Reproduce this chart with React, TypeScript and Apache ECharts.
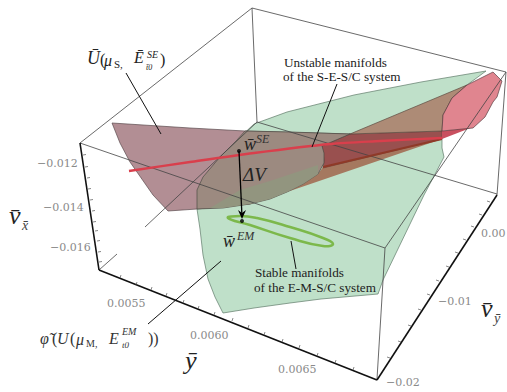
import React, { useEffect, useRef } from "react";
import * as echarts from "echarts";

type P = number[];
const greenSheet: P[] = [[486,71],[421,82],[354,95],[287,112],[254,124],[237,140],[220,157],[203,177],[198,190],[197,209],[200,229],[203,255],[208,279],[215,297],[223,313],[254,308],[290,303],[321,299],[378,294],[383,280],[424,195],[433,178],[444,157],[442,148],[442,127],[443,115],[452,98],[467,85]];
const mauveSheet: P[] = [[112,123],[190,128],[245,131],[350,134],[322,146],[323,165],[303,184],[250,204],[197,209],[168,211],[153,195],[130,162],[120,143]];
const overlapLobe: P[] = [[245,131],[290,132],[350,134],[322,146],[324,153],[324,163],[318,174],[303,184],[287,192],[270,199],[250,204],[223,208],[197,209],[197,190],[203,177],[220,157],[237,140]];
const overlapLower: P[] = [[210,208],[240,190],[273,180],[318,165],[318,174],[303,184],[287,192],[270,199],[250,204],[223,208]];
const upperWedge: P[] = [[350,134],[467,85],[452,98],[443,115],[442,131]];
const darkWedge: P[] = [[322,146],[350,134],[442,131],[442,139],[323,168],[324,160]];
const lowerWedge: P[] = [[442,139],[287,192],[303,184],[318,174],[323,167]];
const wedgeTip: P[] = [[442,131],[473,127],[442,139]];
const pinkLens: P[] = [[467,85],[493,72],[502,81],[497,97],[493,102],[485,117],[473,128],[442,131],[443,115],[452,98]];

const redLine: P[] = [[129,171],[190,162],[254,153],[330,144],[380,141],[442,138]];
const brownLine: P[] = [[323,167],[442,139]];
const stableOrbit: P[] = [[228,218],[240,216],[257,218],[290,227],[323,238],[333,244],[323,246],[290,238],[250,225]];

const boxThin: P[][] = [
  [[80,143],[252,8]], [[252,8],[506,72]], [[252,8],[257,122]], [[257,122],[497,194]],
  [[257,122],[145,227]], [[117,254],[99,270]], [[80,143],[385,248]], [[385,248],[506,72]],
  [[385,248],[377,379]], [[506,72],[497,195]],
];
const boxThick: P[][] = [ [[80,143],[99,270]], [[99,270],[377,380]], [[377,380],[497,195]] ];
const leaders: P[][] = [ [[126,73],[161,134]], [[337,84],[312,147]], [[148,324],[221,261]], [[291,241],[296,269]] ];
const deltaV: P[] = [[239,151],[242,217]];
const endDots: P[] = [[239,151],[242,221]];

const ticksY: P[] = [[120,278],[136,285],[151,290],[166,296],[183,303],[198,309],[214,315],[232,321],[248,328],[264,335],[282,342],[299,348],[317,356],[335,363],[353,370]];
const ticksVy: P[] = [[390,358],[401,342],[411,326],[421,310],[430,295],[439,281],[449,267],[458,253],[466,240],[474,227],[482,215],[490,202]];
const ticksVx: P[] = [[83,155],[85,167],[87,178],[88,189],[90,200],[92,211],[93,222],[95,231],[97,241],[98,252],[99,262]];

const vxLabels = ["\u22120.012", "\u22120.014", "\u22120.016"];
const yLabels = ["0.0055", "0.0060", "0.0065"];
const vyLabels = ["0.00", "\u22120.01", "\u22120.02"];
const unstableNote = ["Unstable manifolds", "of the S-E-S/C system"];
const stableNote = ["Stable manifolds", "of the E-M-S/C system"];

const M = "Liberation Serif";
function tx(text: string, x: number, y: number, size: number, o: any = {}) {
  return {
    type: "text", x, y, silent: true, z: 100,
    style: {
      text, fontFamily: o.family || M, fontSize: size, fontStyle: o.italic ? "italic" : "normal",
      fill: o.fill || "#222", textAlign: o.align || "left", textVerticalAlign: "middle",
    },
  };
}

function area(points: P[], fill: string, stroke?: string, lw = 0.7, smooth = 0) {
  return {
    type: "custom", coordinateSystem: "cartesian2d", silent: true, clip: false, data: [[0, 0]],
    renderItem: (_: any, api: any) => ({
      type: "polygon",
      shape: { points: points.map((p) => api.coord(p)), smooth },
      style: { fill, stroke: stroke || "none", lineWidth: lw, lineJoin: "round" },
    }),
  };
}
function line(points: P[], stroke: string, lw: number, smooth = 0) {
  return {
    type: "custom", coordinateSystem: "cartesian2d", silent: true, clip: false, data: [[0, 0]],
    renderItem: (_: any, api: any) => ({
      type: "polyline",
      shape: { points: points.map((p) => api.coord(p)), smooth },
      style: { fill: "none", stroke, lineWidth: lw, lineJoin: "round" },
    }),
  };
}
function ticks(points: P[], dx: number, dy: number) {
  return {
    type: "custom", coordinateSystem: "cartesian2d", silent: true, clip: false,
    data: points,
    encode: { x: 0, y: 1 },
    renderItem: (_: any, api: any) => {
      const c = api.coord([api.value(0), api.value(1)]);
      return {
        type: "line",
        shape: { x1: c[0], y1: c[1], x2: c[0] + dx, y2: c[1] + dy },
        style: { stroke: "#555", lineWidth: 0.7 },
      };
    },
  };
}

export default function App() {
  const ref = useRef<HTMLDivElement>(null);
  useEffect(() => {
    document.body.style.margin = "0";
    const chart = echarts.init(ref.current!, null, { renderer: "svg" });
    const F = "DejaVu Serif";
    const G = "#8a8a8a";
    const option: any = {
      animation: false,
      backgroundColor: "#fff",
      grid: { left: 0, right: 0, top: 0, bottom: 0 },
      xAxis: { type: "value", min: 0, max: 507, show: false },
      yAxis: { type: "value", min: 0, max: 392, inverse: true, show: false },
      series: [
        area(greenSheet, "#bfe0c9", "#5f7a68"),
        area(mauveSheet, "#b28e94", "#5a4a4e"),
        area(lowerWedge, "#a5785f"),
        area(darkWedge, "#99504f", "#5a3a38", 0.5),
        area(overlapLobe, "#9c8a80", "#4c4a44"),
        area(overlapLower, "#92957f"),
        area(upperWedge, "#ad8b76", "#5c4a40"),
        area(wedgeTip, "#c9505f"),
        area(pinkLens, "#e0858f", "#5a3f42"),
        ...boxThin.map((s) => line(s, "#444", 0.8)),
        line(brownLine, "#8f3a28", 1.8),
        line(redLine, "#d93f4c", 2.4, 0.3),
        area(stableOrbit, "none", "#7cb84b", 2.6, 0.5),
        ...boxThick.map((s) => line(s, "#111", 1.6)),
        ticks(ticksY, 1, -3),
        ticks(ticksVy, -3, -1),
        ticks(ticksVx, 3, -0.5),
        ...leaders.map((s) => line(s, "#111", 1)),
        line(deltaV, "#000", 1.3),
        {
          type: "scatter", silent: true, clip: false, data: endDots, symbolSize: 4,
          itemStyle: { color: "#000" },
        },
        {
          type: "custom", coordinateSystem: "cartesian2d", silent: true, clip: false, data: [[0, 0]],
          renderItem: (_: any, api: any) => {
            const tip = api.coord(deltaV[1]);
            return {
              type: "polygon",
              shape: { points: [[tip[0], tip[1] + 2], [tip[0] - 4, tip[1] - 7], [tip[0], tip[1] - 4], [tip[0] + 4, tip[1] - 7]] },
              style: { fill: "#000" },
            };
          },
        },
      ],
      graphic: [
        tx(vxLabels[0], 37, 163, 11, { family: F, fill: G }),
        tx(vxLabels[1], 43, 207, 11, { family: F, fill: G }),
        tx(vxLabels[2], 50, 247, 11, { family: F, fill: G }),
        tx(yLabels[0], 107, 303, 11, { family: F, fill: G }),
        tx(yLabels[1], 190, 335, 11, { family: F, fill: G }),
        tx(yLabels[2], 278, 369, 11, { family: F, fill: G }),
        tx(vyLabels[0], 481, 233, 11, { family: F, fill: G }),
        tx(vyLabels[1], 438, 301, 11, { family: F, fill: G }),
        tx(vyLabels[2], 386, 382, 11, { family: F, fill: G }),

        tx("v\u0304", 9, 215, 26, { italic: true }),
        tx("x\u0304", 22, 225, 14, { italic: true, fill: "#444" }),
        tx("y\u0304", 185, 360, 26, { italic: true }),
        tx("v\u0304", 481, 308, 26, { italic: true }),
        tx("y\u0304", 494, 318, 14, { italic: true, fill: "#444" }),

        tx("U\u0304", 87, 58, 18, { italic: true }),
        tx("(", 100, 59, 16),
        tx("\u03bc", 104, 60, 16, { italic: true }),
        tx("S,", 114, 64, 11),
        tx("E\u0304", 134, 57, 16, { italic: true }),
        tx("SE", 147, 54, 10, { italic: true }),
        tx("t\u03040", 146, 67, 8, { italic: true }),
        tx(")", 160, 59, 16),

        tx(unstableNote[0], 284, 62, 13.2),
        tx(unstableNote[1], 283, 76, 13.2),
        tx(stableNote[0], 255, 272, 13.2),
        tx(stableNote[1], 254, 287, 13.2),

        tx("w\u0304", 244, 144, 18, { italic: true }),
        tx("SE", 256, 139, 12, { italic: true, fill: "#333" }),
        tx("\u0394V", 243, 174, 19, { italic: true, fill: "#222" }),
        tx("w\u0304", 223, 241, 18, { italic: true }),
        tx("EM", 237, 236, 12, { italic: true, fill: "#333" }),

        tx("\u03c6\u0303", 40, 338, 16, { italic: true, fill: "#333" }),
        tx("(", 52, 338, 16, { fill: "#333" }),
        tx("U", 57, 338, 16, { italic: true, fill: "#333" }),
        tx("(", 70, 338, 16, { fill: "#333" }),
        tx("\u03bc", 76, 339, 16, { italic: true, fill: "#333" }),
        tx("M,", 86, 343, 10, { fill: "#333" }),
        tx("E", 109, 338, 16, { italic: true, fill: "#333" }),
        tx("EM", 122, 331, 10, { italic: true, fill: "#333" }),
        tx("t0", 122, 345, 9, { italic: true, fill: "#333" }),
        tx("))", 148, 338, 16, { fill: "#333" }),
      ],
    };
    chart.setOption(option);
    return () => chart.dispose();
  }, []);
  return <div ref={ref} style={{ width: 507, height: 392 }} />;
}
